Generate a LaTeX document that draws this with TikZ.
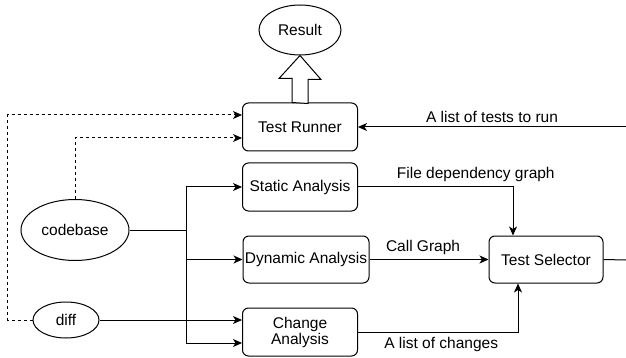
\documentclass[tikz,border=0pt]{standalone}
\usepackage{fontspec}
\setmainfont{Liberation Sans}
\usetikzlibrary{arrows.meta, shapes.geometric}

\tikzset{
  box/.style={draw, rounded corners=6pt, line width=1pt, minimum width=115pt, minimum height=48pt, inner sep=1pt, align=center},
  oval/.style={draw, ellipse, line width=1pt, inner sep=1pt},
  arr/.style={line width=1pt, -{Stealth[length=9pt,width=8pt,inset=2.5pt]}},
  dotarr/.style={arr, dash pattern=on 3pt off 3pt}
}

\begin{document}
\begin{tikzpicture}[x=1pt, y=-1pt, font=\fontsize{15.5}{16}\selectfont]
             \useasboundingbox (0,0) rectangle (626,358);

             \node[oval, minimum width=82pt, minimum height=50pt] (result) at (300, 30) {Result};
             \node[box] (runner) at (300, 127) {Test Runner};
             \node[box] (static) at (300, 187) {Static Analysis};
             \node[box, minimum width=126pt, minimum height=47pt] (dynamic) at (306, 259.5) {Dynamic Analysis};
             \node[box] (change) at (300, 332) {Change\\[0pt]Analysis};
             \node[box, minimum width=114pt, minimum height=47pt] (selector) at (546, 259.5) {Test Selector};
             \node[oval, minimum width=108pt, minimum height=61pt] (codebase) at (75, 230) {codebase};
             \node[oval, minimum width=66pt, minimum height=36pt] (diff) at (66, 320) {diff};

             \coordinate (split) at (186, 230);
             \coordinate (loopout) at (626, 260);
             \coordinate (loopin) at (626, 127);

             % hollow arrow up to the result
             \draw[line width=1pt, fill=white] (runner.north) ++(-8,0) -- ++(0,-24) -- ++(-13,0) -- (result.south)
                  -- ++(21,24) -- ++(-13,0) -- ++(0,24) -- cycle;

             \draw[line width=1pt] (codebase.east) -- (split);
             \draw[arr] (split) |- (static.west);
             \draw[arr] (split) |- (dynamic.west);
             \draw[arr] (split) |- ([yshift=-11pt]change.west);
             \draw[arr] (diff.east) -- ([yshift=12pt]change.west);

             \draw[dotarr] (diff.west) -- ++(-25,0) |- ([yshift=12pt]runner.west);
             \draw[dotarr] (codebase.north) |- ([yshift=-11pt]runner.west);

             \draw[arr] (static.east) -| node[pos=.38, above=1pt] {File dependency graph} ([xshift=-33pt]selector.north);
             \draw[arr] (dynamic.east) -- node[pos=.45, above=1pt] {Call Graph} (selector.west);
             \draw[arr] (change.east) -| node[pos=.26, below=1pt] {A list of changes} ([xshift=-28pt]selector.south);

             \draw[line width=1pt] (selector.east) -- (loopout);
             \draw[arr] (loopin) -- node[pos=.5, above=1pt] {A list of tests to run} (runner.east);
\end{tikzpicture}
\end{document}
